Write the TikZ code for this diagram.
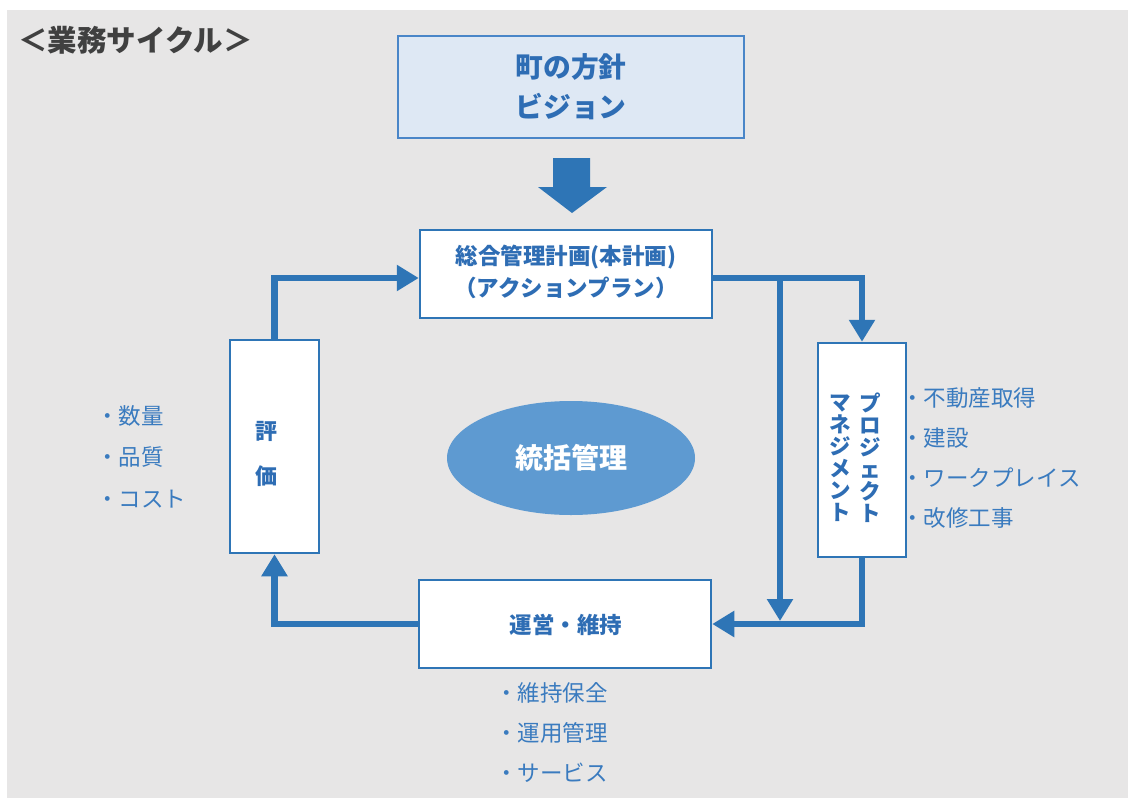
\documentclass[tikz,border=0pt]{standalone}
\usepackage{fontspec}
\setmainfont{Noto Sans CJK JP}
\usetikzlibrary{arrows.meta,shapes.geometric}
\definecolor{bg}{HTML}{E7E6E6}
\definecolor{mblue}{HTML}{2E75B6}
\definecolor{tblue}{HTML}{2E6DB4}
\definecolor{lblue}{HTML}{3A7BBF}
\definecolor{vfill}{HTML}{DEE8F4}
\definecolor{vline}{HTML}{4A86C8}
\definecolor{efill}{HTML}{5E9AD1}
\definecolor{ttlgray}{HTML}{404040}
\begin{document}
\begin{tikzpicture}[x=1pt,y=-1pt,
  box/.style={draw=mblue, line width=2.5pt, fill=white, inner sep=0pt},
  conn/.style={draw=mblue, line width=6.5pt, line join=miter},
  tipend/.style={-{Triangle[length=22pt,width=25pt]}},
  ttl/.style={text=tblue, font=\fontsize{22.5}{32}\selectfont\bfseries, align=center, inner sep=0pt},
  lst/.style={text=lblue, font=\fontsize{22.5}{40}\selectfont, anchor=west, align=left, inner sep=0pt},
  vtxt/.style={text=tblue, font=\fontsize{21.5}{22}\selectfont\bfseries, align=center, inner sep=0pt}
]
\useasboundingbox (0,0) rectangle (1128,798);
\fill[white] (0,0) rectangle (1128,798);
\fill[bg] (7,10) rectangle (1128,798);

% title
\node[anchor=west, text=ttlgray, font=\fontsize{29.5}{30}\selectfont\bfseries, inner sep=0pt] (title) at (18,40) {＜業務サイクル＞};

% vision box
\node[draw=vline, line width=1.3pt, fill=vfill, minimum width=346pt, minimum height=102pt,
  text=tblue, font=\fontsize{27.8}{40}\selectfont\bfseries, align=center] (vision) at (571,87) {町の方針\\ビジョン};

% block arrow
\fill[mblue] (553,158) -- (590,158) -- (590,187) -- (607,187) -- (572,213) -- (538,187) -- (553,187) -- cycle;

% plan box
\node[box, minimum width=292pt, minimum height=88pt] (plan) at (566,274) {};
\node[ttl] (plantxt) at (566,272) {総合管理計画(本計画)\\（アクションプラン）};

% project management box
\node[box, minimum width=88pt, minimum height=214pt] (pm) at (862,450) {};
\node[vtxt] (pm1) at (870,458) {プ\\ロ\\ジ\\ェ\\ク\\ト};
\node[vtxt] (pm2) at (840,458) {マ\\ネ\\ジ\\メ\\ン\\ト};

% operations box
\node[box, minimum width=292pt, minimum height=88pt] (ops) at (565,624) {};
\node[ttl] (opstxt) at (566,625) {運営・維持};

% evaluation box
\node[box, minimum width=89pt, minimum height=213pt] (eval) at (274.5,446.5) {};
\node[text=tblue, font=\fontsize{22}{45}\selectfont\bfseries, align=center, inner sep=0pt] (evaltxt) at (266,454) {評\\価};

% central ellipse
\node[ellipse, fill=efill, minimum width=248pt, minimum height=114pt, inner sep=0pt,
  text=white, font=\fontsize{28}{30}\selectfont\bfseries] (core) at (571,458) {統括管理};

% lists
\node[lst] (listpm) at (901,458) {・不動産取得\\・建設\\・ワークプレイス\\・改修工事};
\node[lst, font=\fontsize{22.5}{41.5}\selectfont] (listev) at (96,456.5) {・数量\\・品質\\・コスト};
\node[lst] (listops) at (495,733) {・維持保全\\・運用管理\\・サービス};

% connectors
\coordinate (split) at (780,278);
\coordinate (join) at (780,621);
\draw[conn, tipend] ([yshift=-4pt]plan.east) -| (pm.north);
\draw[conn, tipend] (split) -- (join);
\draw[conn, tipend] (pm.south) |- (ops.east);
\draw[conn, tipend] (ops.west) -| (eval.south);
\draw[conn, tipend] (eval.north) |- ([yshift=-4pt]plan.west);
\end{tikzpicture}
\end{document}
